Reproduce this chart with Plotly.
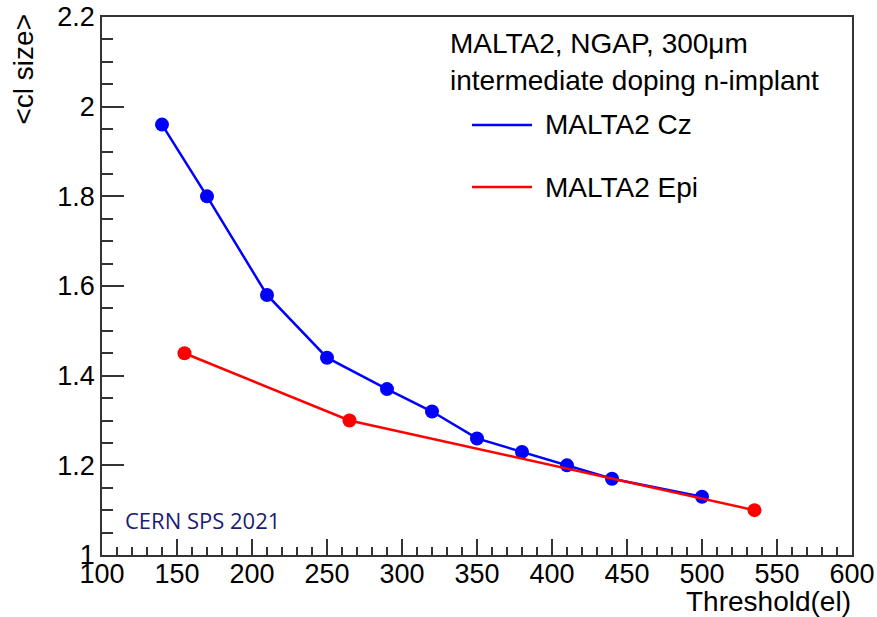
import plotly.graph_objects as go

# Mean cluster size vs. threshold for the two MALTA2 substrates
cz_threshold = [140, 170, 210, 250, 290, 320, 350, 380, 410, 440, 500]
cz_cluster_size = [1.96, 1.80, 1.58, 1.44, 1.37, 1.32, 1.26, 1.23, 1.20, 1.17, 1.13]

epi_threshold = [155, 265, 535]
epi_cluster_size = [1.45, 1.30, 1.10]

x_ticks = [100, 150, 200, 250, 300, 350, 400, 450, 500, 550, 600]
y_ticks = [1.0, 1.2, 1.4, 1.6, 1.8, 2.0, 2.2]
y_tick_text = ["1", "1.2", "1.4", "1.6", "1.8", "2", "2.2"]

header_lines = ["MALTA2, NGAP, 300\u03bcm", "intermediate doping n-implant"]
series_names = ["MALTA2 Cz", "MALTA2 Epi"]
series_colors = ["#0000ff", "#ff0000"]

FONT = "Liberation Sans, Arial, sans-serif"

fig = go.Figure()
for name, xs, ys, color in [
    (series_names[0], cz_threshold, cz_cluster_size, series_colors[0]),
    (series_names[1], epi_threshold, epi_cluster_size, series_colors[1]),
]:
    fig.add_trace(go.Scatter(
        x=xs, y=ys, name=name, mode="lines+markers",
        line=dict(color=color, width=2.5),
        marker=dict(color=color, size=14),
        showlegend=False,
    ))

# plot area in pixels: x 102..852, y 17..555
L, R, T, B = 102, 852, 17, 555
W, H = R - L, B - T


def px(xp):
    return (xp - L) / W


def py(yp):
    return (B - yp) / H


annotations = []
# header text
for text, yp in zip(header_lines, [43, 80]):
    annotations.append(dict(
        x=px(448), y=py(yp), xref="paper", yref="paper", text=text,
        showarrow=False, xanchor="left", yanchor="middle",
        font=dict(family=FONT, size=28, color="black"),
    ))
# legend entries drawn as sample line + label
shapes = []
for name, color, yp in zip(series_names, series_colors, [125, 187]):
    shapes.append(dict(
        type="line", xref="paper", yref="paper",
        x0=px(472), x1=px(532), y0=py(yp), y1=py(yp),
        line=dict(color=color, width=2.5),
    ))
    annotations.append(dict(
        x=px(543), y=py(yp), xref="paper", yref="paper", text=name,
        showarrow=False, xanchor="left", yanchor="middle",
        font=dict(family=FONT, size=28, color="black"),
    ))
# beam test label
annotations.append(dict(
    x=px(123), y=py(520), xref="paper", yref="paper", text="CERN SPS 2021",
    showarrow=False, xanchor="left", yanchor="middle",
    font=dict(family="Open Sans, sans-serif", size=22, color="#1c1c73"),
))
# axis titles
annotations.append(dict(
    x=px(853), y=py(602), xref="paper", yref="paper", text="Threshold(el)",
    showarrow=False, xanchor="right", yanchor="middle",
    font=dict(family=FONT, size=28, color="black"),
))
annotations.append(dict(
    x=px(23), y=py(12), xref="paper", yref="paper", text="&lt;cl size&gt;",
    showarrow=False, xanchor="center", yanchor="top", textangle=-90,
    font=dict(family=FONT, size=28, color="black"),
))

axis_common = dict(
    showline=True, linecolor="#333333", linewidth=1.5, mirror=True,
    showgrid=False, zeroline=False, ticks="inside", tickcolor="#333333",
    tickwidth=1.5, tickfont=dict(family=FONT, size=27, color="black"),
    automargin=False,
)

fig.update_layout(
    width=877, height=617,
    margin=dict(l=L, r=877 - R, t=T, b=617 - B, autoexpand=False),
    paper_bgcolor="white", plot_bgcolor="white",
    annotations=annotations, shapes=shapes,
    xaxis=dict(
        range=[100, 600], tickvals=x_ticks, ticklen=16, ticklabelstandoff=-6,
        minor=dict(dtick=10, tick0=100, ticks="inside", ticklen=8,
                   tickcolor="#333333", tickwidth=1.5, showgrid=False),
        **axis_common,
    ),
    yaxis=dict(
        range=[1.0, 2.2], tickvals=y_ticks, ticktext=y_tick_text, ticklen=22,
        minor=dict(dtick=0.05, tick0=1.0, ticks="inside", ticklen=11,
                   tickcolor="#333333", tickwidth=1.5, showgrid=False),
        **axis_common,
    ),
)

fig.write_html("out.html")
